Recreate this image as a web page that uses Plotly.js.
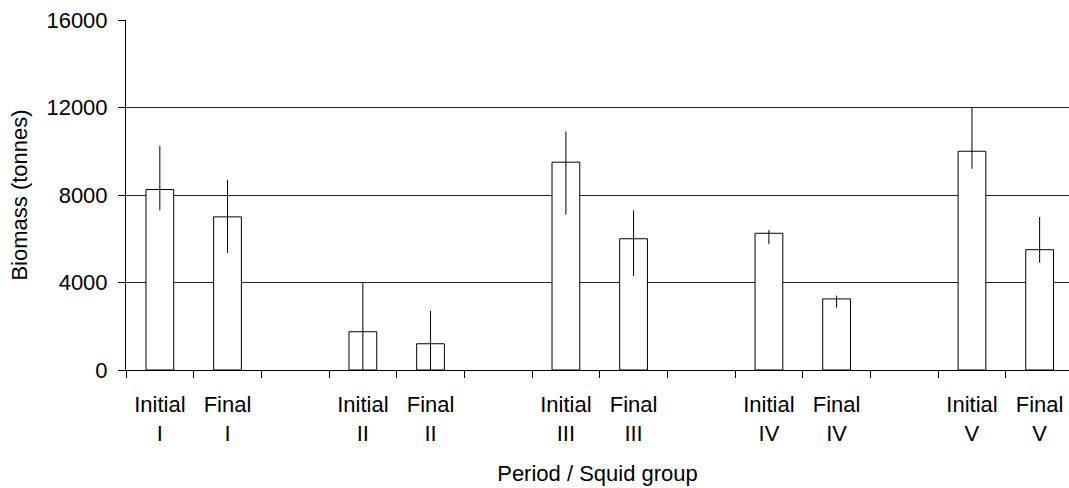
<!DOCTYPE html>
<html>
<head>
<meta charset="utf-8">
<script src="https://cdn.plot.ly/plotly-3.0.1.min.js"></script>
<style>html,body{margin:0;padding:0;background:#fff;}#chart{width:1069px;height:488px;}</style>
</head>
<body>
<div id="chart"></div>
<script>
var categories = ["Initial<br>I","Final<br>I"," ","Initial<br>II","Final<br>II","  ","Initial<br>III","Final<br>III","   ","Initial<br>IV","Final<br>IV","    ","Initial<br>V","Final<br>V"];
var biomass = [8250, 7000, null, 1750, 1200, null, 9500, 6000, null, 6250, 3250, null, 10000, 5500];
var errUpper = [2000, 1700, null, 2250, 1500, null, 1400, 1300, null, 150, 150, null, 2000, 1500];
var errLower = [950, 1650, null, 1750, 1200, null, 2400, 1700, null, 500, 400, null, 800, 600];
var yTicks = [0, 4000, 8000, 12000, 16000];

var font = {family: "Liberation Sans, Arial, sans-serif", size: 22, color: "#000"};

var trace = {
  type: "bar",
  x: categories,
  y: biomass,
  width: 0.41,
  marker: {color: "#fff", line: {color: "#000", width: 1}},
  error_y: {type: "data", symmetric: false, array: errUpper, arrayminus: errLower,
            color: "#000", thickness: 1, width: 0},
  hoverinfo: "none"
};

var layout = {
  width: 1069, height: 488,
  margin: {l: 126, r: 0, t: 20, b: 118},
  paper_bgcolor: "#fff", plot_bgcolor: "#fff",
  font: font,
  showlegend: false,
  xaxis: {
    type: "category",
    categoryorder: "array", categoryarray: categories,
    range: [-0.5, 13.434],
    tickson: "boundaries",
    ticks: "outside", ticklen: 7, tickcolor: "#000", tickwidth: 1,
    showline: true, linecolor: "#000", linewidth: 1,
    showgrid: false, zeroline: false,
    tickfont: font,
    tickangle: 0,
    ticklabelstandoff: 15,
    title: {text: "Period / Squid group", font: font, standoff: 20}
  },
  yaxis: {
    range: [0, 16000],
    tickvals: yTicks,
    ticktext: yTicks.map(String),
    ticks: "outside", ticklen: 7, tickcolor: "#000", tickwidth: 1,
    showline: true, linecolor: "#000", linewidth: 1,
    showgrid: true, gridcolor: "#222", gridwidth: 1,
    zeroline: false,
    tickfont: font,
    ticklabelstandoff: 6,
    title: {text: "Biomass (tonnes)", font: font, standoff: 12}
  }
};

Plotly.newPlot("chart", [trace], layout, {staticPlot: true, displayModeBar: false});
</script>
</body>
</html>
